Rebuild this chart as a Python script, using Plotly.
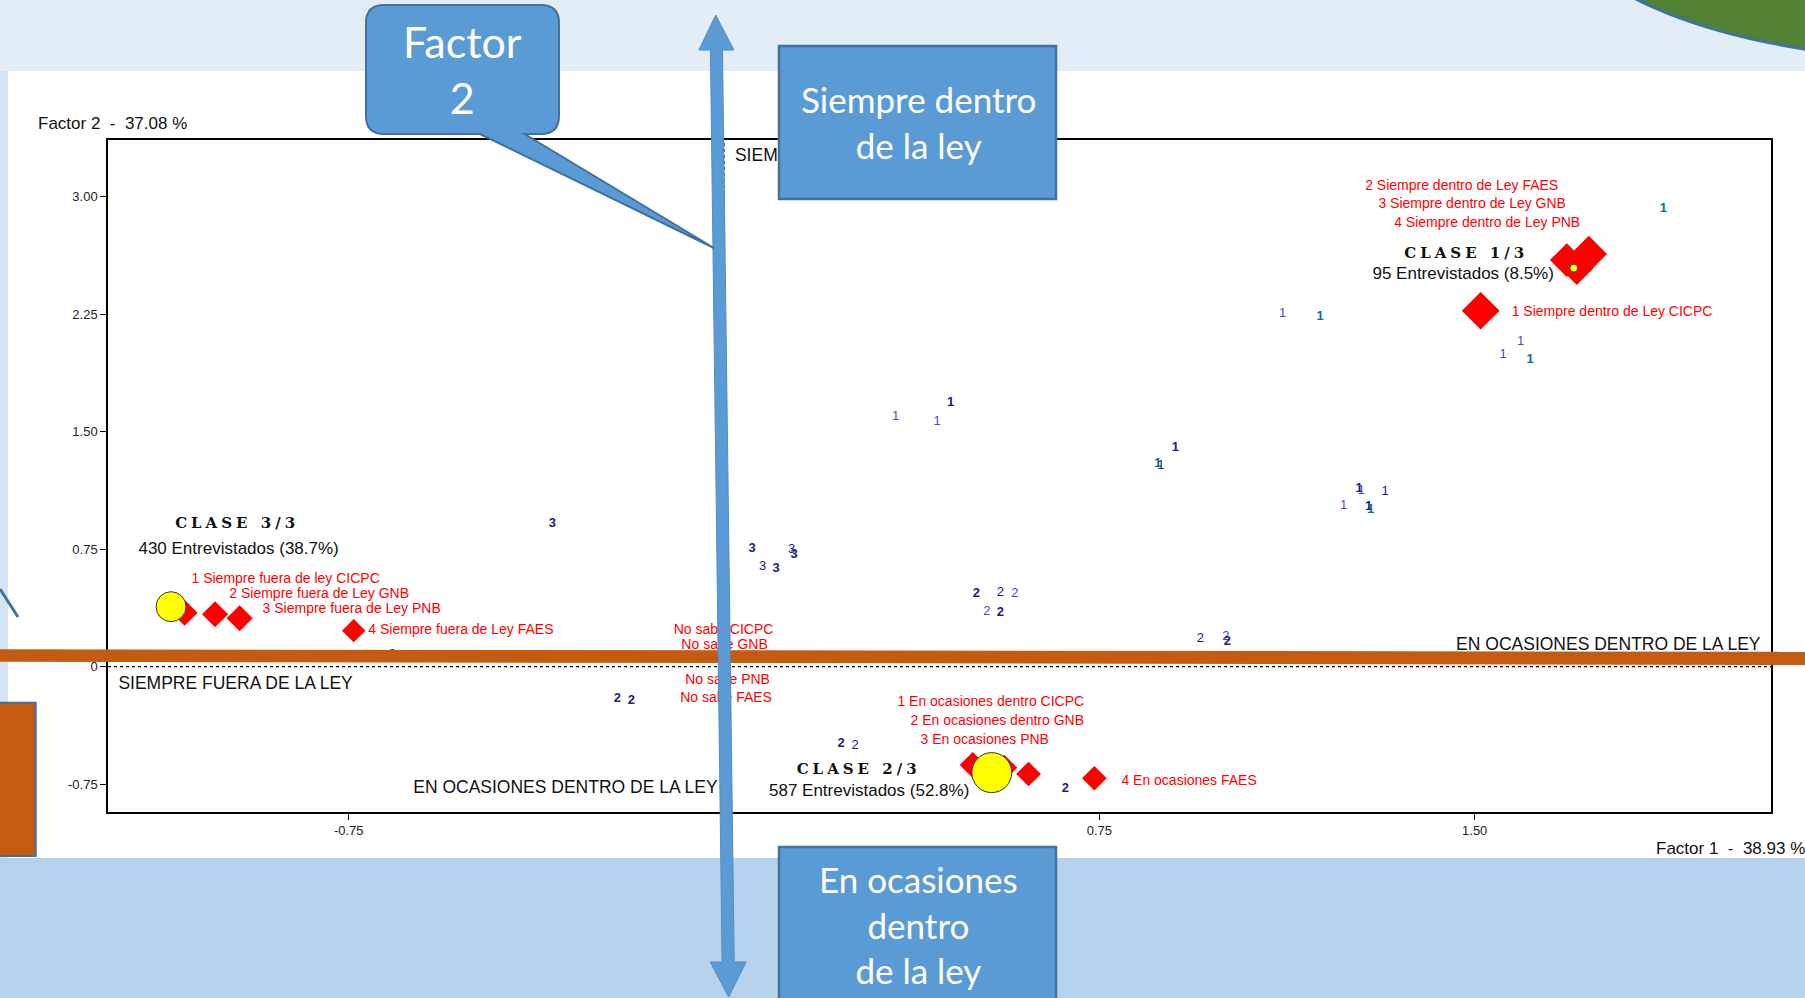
import plotly.graph_objects as go

# ---------------- data ----------------
# individual respondents' points, labelled with their class number
pt_x = [1.877, 1.116, 1.191, 1.592, 1.557, 1.611, 0.343, 0.453, 0.426, 0.902, 0.867, 0.873,
        1.269, 1.273, 1.321, 1.238, 1.288, 1.292,
        0.504, 0.552, 0.581, 0.525, 0.552, 0.952, 1.003, 1.006, -0.213, -0.185, 0.234, 0.262, 0.682,
        -0.343, 0.056, 0.135, 0.140, 0.077, 0.104, -0.663]
pt_y = [2.926, 2.251, 2.234, 2.075, 1.990, 1.962, 1.595, 1.685, 1.564, 1.396, 1.298, 1.281,
        1.138, 1.123, 1.117, 1.027, 1.021, 1.004,
        0.468, 0.472, 0.464, 0.351, 0.345, 0.181, 0.191, 0.160, -0.206, -0.217, -0.489, -0.506, -0.778,
        0.915, 0.756, 0.745, 0.713, 0.638, 0.628, 0.075]
pt_class = ["1"] * 18 + ["2"] * 13 + ["3"] * 7
pt_tone = ["teal", "purple", "teal", "purple", "purple", "teal", "purple", "navy", "purple", "navy", "teal", "navy",
           "navy", "purple", "navy", "purple", "navy", "teal",
           "navy", "navy", "purple", "purple", "navy", "navy", "purple", "navy", "navy", "navy", "navy", "navy", "navy",
           "navy", "navy", "navy", "navy", "navy", "navy", "navy"]
pt_bold = [1, 0, 1, 0, 0, 1, 0, 1, 0, 1, 1, 0,
           1, 0, 0, 0, 1, 1,
           1, 0, 0, 0, 1, 0, 0, 1, 1, 1, 1, 0, 1,
           1, 1, 0, 1, 0, 1, 0]

# active modalities (red diamonds)
mod_names = ["1 Siempre dentro de Ley CICPC", "2 Siempre dentro de Ley FAES",
             "3 Siempre dentro de Ley GNB", "4 Siempre dentro de Ley PNB",
             "1 Siempre fuera de ley CICPC", "2 Siempre fuera de Ley GNB",
             "3 Siempre fuera de Ley PNB", "4 Siempre fuera de Ley FAES",
             "1 En ocasiones dentro CICPC", "2 En ocasiones dentro GNB",
             "3 En ocasiones PNB", "4 En ocasiones FAES"]
mod_x = [1.512, 1.728, 1.684, 1.704, -1.078, -1.017, -0.968, -0.740, 0.497, 0.560, 0.6085, 0.740]
mod_y = [2.272, 2.634, 2.595, 2.544, 0.345, 0.334, 0.309, 0.230, -0.627, -0.645, -0.685, -0.712]
mod_weight = [29, 28, 26, 26, 20, 20, 20, 18, 20, 20, 19, 19]
mod_label_x = [1.5739, 1.474, 1.495, 1.525, -0.876, -0.809, -0.744, -0.7108, 0.533, 0.546, 0.521, 0.7940]
mod_label_y = [2.262, 3.064, 2.947, 2.826, 0.558, 0.460, 0.362, 0.228, -0.227, -0.347, -0.468, -0.730]
mod_label_pos = ["middle right", "middle center", "middle center", "middle center",
                 "middle center", "middle center", "middle center", "middle right",
                 "middle center", "middle center", "middle center", "middle right"]

# "No sabe" modalities
ns_names = ["No sabe CICPC", "No sabe GNB", "No sabe PNB", "No sabe FAES"]
ns_x = [-0.001, 0.001, 0.007, 0.004]
ns_y = [0.234, 0.134, -0.091, -0.204]

# class centres
cls_title = ["CLASE 1/3", "CLASE 2/3", "CLASE 3/3"]
cls_count = ["95 Entrevistados (8.5%)", "587 Entrevistados (52.8%)", "430 Entrevistados (38.7%)"]
cls_cx = [1.698, 0.535, -1.105]
cls_cy = [2.544, -0.676, 0.383]
cls_weight = [8, 40, 30]
cls_title_x = [1.483, 0.269, -0.973]
cls_title_y = [2.634, -0.659, 0.909]
cls_count_x = [1.477, 0.290, -0.970]
cls_count_y = [2.500, -0.798, 0.745]

# axis-region captions
region_text = ["SIEMPRE DENTRO DE LA LEY", "SIEMPRE FUERA DE LA LEY",
               "EN OCASIONES DENTRO DE LA LEY", "EN OCASIONES DENTRO DE LA LEY"]
region_x = [0.0218, -1.2102, -0.317, 1.767]
region_y = [3.255, -0.115, -0.781, 0.132]
region_pos = ["middle right", "middle right", "middle center", "middle center"]

x_tickvals = [-0.75, 0, 0.75, 1.5]
x_ticktext = ["-0.75", "0", "0.75", "1.50"]
y_tickvals = [-0.75, 0, 0.75, 1.5, 2.25, 3.0]
y_ticktext = ["-0.75", "0", "0.75", "1.50", "2.25", "3.00"]
x_title = "Factor 1  -  38.93 %"
y_title = "Factor 2  -  37.08 %"

# ---------------- layout geometry ----------------
W, H = 1805, 998
ML, MR, MT, MB = 108, 34, 140, 186
PL, PR, PT, PB = ML, W - MR, MT, H - MB
X_RANGE = [-1.231, 2.0921]
Y_RANGE = [-0.9274, 3.3617]


def px(x):
    return (x - PL) / (PR - PL)


def py(y):
    return (PB - y) / (PB - PT)


def P(x, y):
    return f"{px(x):.5f},{py(y):.5f}"


BLUE = "#5B9BD5"
BLUE_EDGE = "#41719C"
ORANGE = "#C55A11"
tone_color = {"navy": "#1c1c84", "purple": "#5a44b4", "teal": "#0b6f80"}

fig = go.Figure()

# respondents
fig.add_trace(go.Scatter(
    x=pt_x, y=pt_y, mode="text",
    text=[f"<b>{c}</b>" if b else c for c, b in zip(pt_class, pt_bold)],
    textposition="middle center",
    textfont=dict(family="Liberation Sans, Arial", size=13,
                  color=[tone_color[t] for t in pt_tone]),
    hoverinfo="skip", showlegend=False))

# modalities
fig.add_trace(go.Scatter(
    x=mod_x, y=mod_y, mode="markers",
    marker=dict(symbol="diamond", size=mod_weight, color="#FF0000", opacity=1, line=dict(width=0)),
    hoverinfo="skip", showlegend=False))

# class centres
fig.add_trace(go.Scatter(
    x=cls_cx, y=cls_cy, mode="markers",
    marker=dict(symbol="circle", size=cls_weight, color="#FFFF00", opacity=1,
                line=dict(width=1, color="#333333")),
    hoverinfo="skip", showlegend=False))

# modality labels
fig.add_trace(go.Scatter(
    x=mod_label_x, y=mod_label_y, mode="text", text=mod_names, textposition=mod_label_pos,
    textfont=dict(family="Liberation Sans, Arial", size=14, color="#FF0000"),
    hoverinfo="skip", showlegend=False))
fig.add_trace(go.Scatter(
    x=ns_x, y=ns_y, mode="text", text=ns_names, textposition="middle center",
    textfont=dict(family="Liberation Sans, Arial", size=14, color="#FF0000"),
    hoverinfo="skip", showlegend=False))

# class captions
fig.add_trace(go.Scatter(
    x=cls_title_x, y=cls_title_y, mode="text",
    text=[f'<span style="letter-spacing:4px"><b>{t}</b></span>' for t in cls_title],
    textposition="middle center",
    textfont=dict(family="DejaVu Serif", size=15, color="#111111"),
    hoverinfo="skip", showlegend=False))
fig.add_trace(go.Scatter(
    x=cls_count_x, y=cls_count_y, mode="text", text=cls_count, textposition="middle center",
    textfont=dict(family="Liberation Sans, Arial", size=17, color="#111111"),
    hoverinfo="skip", showlegend=False))

# region captions
fig.add_trace(go.Scatter(
    x=region_x, y=region_y, mode="text", text=region_text, textposition=region_pos,
    textfont=dict(family="Liberation Sans, Arial", size=17.5, color="#111111"),
    hoverinfo="skip", showlegend=False))

shapes = []
# slide background
shapes.append(dict(type="rect", xref="paper", yref="paper", x0=px(-5), x1=px(W + 5), y0=py(-5), y1=py(71),
                   fillcolor="#E3EDF7", line=dict(width=0), layer="below"))
shapes.append(dict(type="rect", xref="paper", yref="paper", x0=px(-5), x1=px(8), y0=py(71), y1=py(858),
                   fillcolor="#D4E4F4", line=dict(width=0), layer="below"))
shapes.append(dict(type="rect", xref="paper", yref="paper", x0=px(-5), x1=px(W + 5), y0=py(858), y1=py(H + 5),
                   fillcolor="#B5D1EB", line=dict(width=0), layer="below"))
# axes through origin (dashed)
shapes.append(dict(type="line", xref="paper", yref="y", x0=0, x1=1, y0=0, y1=0,
                   line=dict(color="black", width=1.2, dash="3px,3px"), layer="below"))
shapes.append(dict(type="line", xref="x", yref="paper", x0=0, x1=0, y0=0, y1=1,
                   line=dict(color="black", width=1.2, dash="3px,3px"), layer="below"))
# green ellipse top right
shapes.append(dict(type="circle", xref="paper", yref="paper", x0=px(1550), x1=px(2350), y0=py(-260), y1=py(60),
                   fillcolor="#548235", line=dict(color=BLUE_EDGE, width=3), layer="above"))
# orange horizontal bar
shapes.append(dict(type="path", xref="paper", yref="paper",
                   path=f"M {P(-5, 649.3)} L {P(W + 5, 651.8)} L {P(W + 5, 665)} L {P(-5, 661.7)} Z",
                   fillcolor=ORANGE, line=dict(width=0), layer="above"))
# orange box at left
shapes.append(dict(type="rect", xref="paper", yref="paper", x0=px(-10), x1=px(35.7), y0=py(702.7), y1=py(856),
                   fillcolor=ORANGE, line=dict(color=BLUE_EDGE, width=2), layer="above"))
# remnant of a callout pointer at left
shapes.append(dict(type="line", xref="paper", yref="paper", x0=px(0), y0=py(589), x1=px(18), y1=py(617),
                   line=dict(color=BLUE_EDGE, width=3), layer="above"))
# vertical double arrow
arrow = (f"M {P(715.7, 15)} L {P(733.9, 50)} L {P(722.5, 50)} L {P(734.2, 962)} L {P(746.2, 962)} "
         f"L {P(728.6, 997)} L {P(710.2, 962)} L {P(722.1, 962)} L {P(710.4, 50)} L {P(698.9, 50)} Z")
shapes.append(dict(type="path", xref="paper", yref="paper", path=arrow,
                   fillcolor=BLUE, line=dict(color="#4F8DC8", width=1), layer="above"))
# "Factor 2" callout
r = 18
callout = (f"M {P(366 + r, 5)} L {P(559 - r, 5)} Q {P(559, 5)} {P(559, 5 + r)} L {P(559, 134 - r)} "
           f"Q {P(559, 134)} {P(559 - r, 134)} L {P(524.6, 134)} L {P(714, 248)} L {P(480, 134)} "
           f"L {P(366 + r, 134)} Q {P(366, 134)} {P(366, 134 - r)} L {P(366, 5 + r)} Q {P(366, 5)} {P(366 + r, 5)} Z")
shapes.append(dict(type="path", xref="paper", yref="paper", path=callout,
                   fillcolor=BLUE, line=dict(color=BLUE_EDGE, width=2), layer="above"))
# text boxes
shapes.append(dict(type="rect", xref="paper", yref="paper", x0=px(779), x1=px(1056), y0=py(46), y1=py(199),
                   fillcolor=BLUE, line=dict(color=BLUE_EDGE, width=2.5), layer="above"))
shapes.append(dict(type="rect", xref="paper", yref="paper", x0=px(779), x1=px(1056), y0=py(847), y1=py(1010),
                   fillcolor=BLUE, line=dict(color=BLUE_EDGE, width=2.5), layer="above"))

annotations = [
    dict(text="Factor<br>2", xref="paper", yref="paper", x=px(462.5), y=py(69), xanchor="center", yanchor="middle",
         showarrow=False, font=dict(family="Lato", size=43, color="white")),
    dict(text="Siempre dentro<br>de la ley", xref="paper", yref="paper", x=px(918), y=py(121.5),
         xanchor="center", yanchor="middle", showarrow=False, font=dict(family="Lato", size=35, color="white")),
    dict(text="En ocasiones<br>dentro<br>de la ley", xref="paper", yref="paper", x=px(918), y=py(924),
         xanchor="center", yanchor="middle", showarrow=False, font=dict(family="Lato", size=35, color="white")),
    dict(text=y_title, xref="paper", yref="paper", x=px(35.7), y=py(123.3), xanchor="left", yanchor="middle",
         showarrow=False, font=dict(family="Liberation Sans, Arial", size=17, color="#111111")),
    dict(text=x_title, xref="paper", yref="paper", x=px(1653.7), y=py(848), xanchor="left", yanchor="middle",
         showarrow=False, font=dict(family="Liberation Sans, Arial", size=17, color="#111111")),
]

fig.update_layout(
    width=W, height=H,
    margin=dict(l=ML, r=MR, t=MT, b=MB, pad=0),
    paper_bgcolor="white", plot_bgcolor="rgba(0,0,0,0)",
    showlegend=False,
    shapes=shapes, annotations=annotations,
    xaxis=dict(range=X_RANGE, tickvals=x_tickvals, ticktext=x_ticktext, showgrid=False, zeroline=False,
               showline=True, linecolor="black", linewidth=1.5, mirror=True, ticks="outside", ticklen=6,
               tickcolor="black", tickfont=dict(family="Liberation Sans, Arial", size=13, color="#222222"),
               automargin=False, fixedrange=True),
    yaxis=dict(range=Y_RANGE, tickvals=y_tickvals, ticktext=y_ticktext, showgrid=False, zeroline=False,
               showline=True, linecolor="black", linewidth=1.5, mirror=True, ticks="outside", ticklen=6,
               tickcolor="black", tickfont=dict(family="Liberation Sans, Arial", size=13, color="#222222"),
               automargin=False, fixedrange=True),
)

fig.write_html("out.html", config={"displayModeBar": False},
               post_script="document.body.style.margin='0';document.body.style.overflow='hidden';")
